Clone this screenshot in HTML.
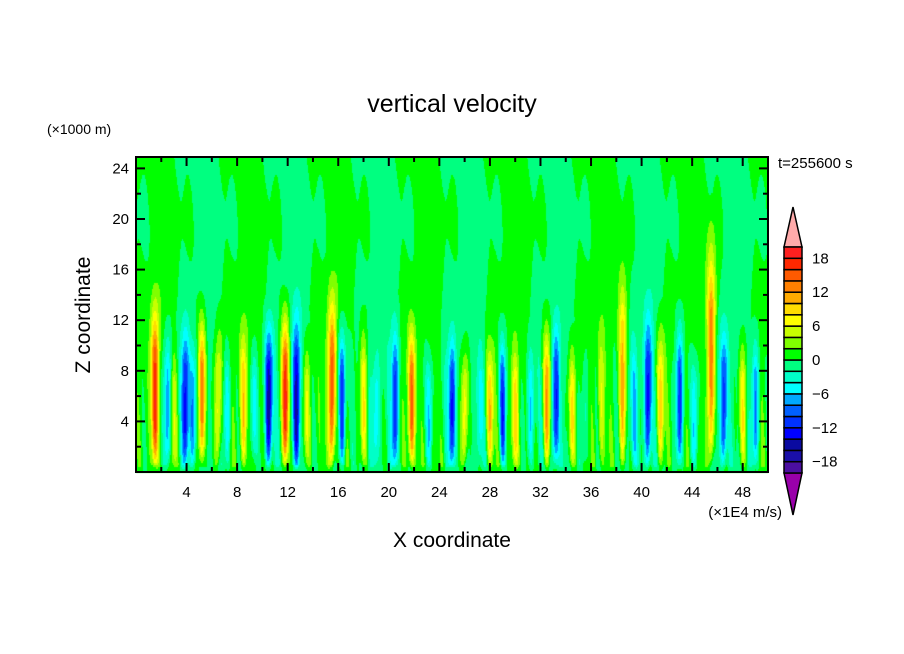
<!DOCTYPE html>
<html><head><meta charset="utf-8"><style>
body{margin:0;background:#fff;width:904px;height:654px;overflow:hidden;position:relative;font-family:"Liberation Sans",sans-serif}
canvas,svg{position:absolute;left:0;top:0}
</style></head><body>
<canvas id="hm" width="904" height="654"></canvas>
<svg id="ov" width="904" height="654" font-family="Liberation Sans, sans-serif">
<text x="452" y="112" font-size="25" text-anchor="middle">vertical velocity</text>
<text x="47" y="134" font-size="14">(×1000 m)</text>
<text x="778" y="168" font-size="15">t=255600 s</text>
<text x="782" y="517" font-size="15" text-anchor="end">(×1E4 m/s)</text>
<text x="452" y="547" font-size="21" text-anchor="middle">X coordinate</text>
<text transform="translate(90,315) rotate(-90)" font-size="21" text-anchor="middle">Z coordinate</text>
<g id="axes"></g><g id="cbar"></g>
</svg>
<script>
const xTicks=[4,8,12,16,20,24,28,32,36,40,44,48];
const yTicks=[4,8,12,16,20,24];
const cbLabels=[18,12,6,0,-6,-12,-18];
const levelColors=["#4b0fa0","#1a0fa8","#0a0aa0","#0000ff","#0032ff","#0060ff","#00a8ff","#00ffff","#00ffc8","#00ff80","#00ff00","#80ff00","#c8ff00","#ffff00","#ffdc00","#ffaa00","#ff8000","#ff5a00","#ff2800","#ff2020"];
const plumeX=[1.5,2.5,3.0,3.9,4.5,5.2,6.5,7.2,8.5,9.3,10.5,11.8,12.7,13.5,15.5,16.3,18.0,19.0,20.5,21.8,23.2,25.0,26.0,27.2,28.0,29.0,30.0,31.2,32.5,33.2,34.5,35.5,36.8,38.5,39.4,40.5,41.5,43.0,44.2,45.5,46.5,48.0,49.0];
const plumeAmp=[17,-9,5,-12,-8,15,8,-7,9,-6,-16,19,-14,6,16,-13,9,-5,-12,14,-6,-12,9,-5,9,-12,8,-6,13,-12,8,-4,5,12,-5,-13,9,-13,-6,15,-11,8,-10];
const plumeTop=[16,14,12,14,12,15,14,12,14,12,14,15,15,12,17,14,14,12,14,14,12,13,12,12,12,13,12,12,14,14,12,12,14,19,13,15,14,14,12,22,14,13,13];
const X0=0,X1=50,Z0=0,Z1=24.9;
const L=136,R=768,T=157,B=472;
const sx=v=>L+(v-X0)/(X1-X0)*(R-L);
const sz=v=>B-(v-Z0)/(Z1-Z0)*(B-T);
function field(x,z){
  let v=1.1*Math.sin(x*0.9+0.5*Math.sin(z*0.25))+0.5*Math.sin(x*2.7+z*0.1);
  if(z<13){v+=3.0*Math.sin(x*6.3+z*0.2)*Math.sin(x*2.1+0.5)*(1-z/13);}
  for(let i=0;i<plumeX.length;i++){
    const dx=(x-plumeX[i])/(0.22+0.01*z);
    if(Math.abs(dx)>3)continue;
    const zn=z/plumeTop[i];
    if(zn>=1)continue;
    const p=(zn/0.35)*Math.exp(1-zn/0.35)*Math.min(1,(1-zn)*2.5);
    v+=plumeAmp[i]*Math.exp(-dx*dx)*p;
  }
  if(z<0.6)v*=z/0.6;
  return v;
}
function colorFor(v){let k=Math.floor((v+20)/2);k=Math.max(0,Math.min(19,k));return levelColors[k];}
const ctx=document.getElementById('hm').getContext('2d');
for(let px=L;px<R;px++){for(let py=T;py<B;py+=2){
  const x=X0+(px+0.5-L)/(R-L)*(X1-X0), z=Z0+(B-py-1)/(B-T)*(Z1-Z0);
  ctx.fillStyle=colorFor(field(x,z));ctx.fillRect(px,py,1,2);}}
const NS='http://www.w3.org/2000/svg';
function mk(tag,attrs,parent){const e=document.createElementNS(NS,tag);for(const k in attrs)e.setAttribute(k,attrs[k]);parent.appendChild(e);return e;}
const ax=document.getElementById('axes');
const frame=mk('rect',{x:L,y:T,width:R-L,height:B-T,fill:'none',stroke:'#000','stroke-width':2},ax);


for(let v=2;v<50;v+=2){const len=v%4===0?9:5;
  const t1=mk('line',{x1:sx(v),x2:sx(v),y1:B,y2:B-len,stroke:'#000','stroke-width':2},ax);
  
  
  const t2=mk('line',{x1:sx(v),x2:sx(v),y1:T,y2:T+len,stroke:'#000','stroke-width':2},ax);
  
  }
for(let v=2;v<25;v+=2){const len=v%4===0?9:5;
  const t1=mk('line',{x1:L,x2:L+len,y1:sz(v),y2:sz(v),stroke:'#000','stroke-width':2},ax);
  
  
  const t2=mk('line',{x1:R,x2:R-len,y1:sz(v),y2:sz(v),stroke:'#000','stroke-width':2},ax);
  
  }
xTicks.forEach(v=>{const t=mk('text',{x:sx(v),y:B+25,'font-size':15,'text-anchor':'middle'},ax);t.textContent=v;
  
  });
yTicks.forEach(v=>{const t=mk('text',{x:L-7,y:sz(v)+5,'font-size':15,'text-anchor':'end'},ax);t.textContent=v;
  
  });
const cb=document.getElementById('cbar');
const cbL=784,cbR=802,cbT=247,cbB=473,h=(cbB-cbT)/levelColors.length;
const up=mk('polygon',{points:`${cbL},${cbT} ${cbR},${cbT} ${(cbL+cbR)/2},207`,fill:'#ffaaaa',stroke:'#000','stroke-width':1.5},cb);


const dn=mk('polygon',{points:`${cbL},${cbB} ${cbR},${cbB} ${(cbL+cbR)/2},515`,fill:'#9900aa',stroke:'#000','stroke-width':1.5},cb);


levelColors.forEach((c,i)=>{const r=mk('rect',{x:cbL,y:cbB-(i+1)*h,width:cbR-cbL,height:h,fill:c,stroke:'#000','stroke-width':1.5},cb);
  
  });
cbLabels.forEach(v=>{const y=cbB-((v+20)/2)*h;const t=mk('text',{x:cbL+28,y:y+5,'font-size':15},cb);t.textContent=v<0?'\u2212'+(-v):v;
  
  });
</script>
</body></html>
